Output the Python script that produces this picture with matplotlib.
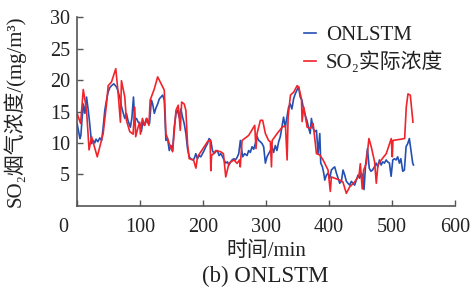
import matplotlib

matplotlib.use("Agg")
import matplotlib.pyplot as plt
import matplotlib.transforms as mtransforms

# ONLSTM prediction (minute, mg/m3)
pred_t = [0, 2, 4.5, 6, 8, 9.8, 12.4, 15, 17.7, 20, 23, 25.6, 28, 30, 33, 36, 39,
          41.4, 44, 46.7, 49.3, 52, 54.6, 58.3, 60, 62.5, 64.5, 66.7, 68.8, 70, 72,
          75.7, 78.3, 81, 84.6, 87, 89.5, 91.5, 94.2, 97, 99.4, 102, 104.7, 107, 110,
          112, 115, 117.9, 120, 122.6, 125, 127.9, 130.5, 133.2, 135.8, 138.4, 140,
          141, 143.7, 146.3, 149, 151.6, 154.2, 157, 159.5, 162, 164.8, 167.4, 170,
          172.7, 175.3, 178, 180.6, 183.2, 185.9, 188.5, 191.1, 193.8, 196.4, 199,
          201.7, 204.3, 207, 209.6, 212.2, 214.9, 217.5, 220, 222.8, 225.4, 228,
          230.5, 233.3, 236, 238.6, 241.2, 243.8, 246, 249, 251.3, 254, 256.6, 259.2,
          262.9, 266, 269.8, 272.4, 275, 277.7, 280.3, 283, 285.7, 288.3, 291, 293.6,
          296.2, 298.9, 301.5, 304.1, 306.8, 309.4, 312, 314.7, 317.3, 320, 322.6,
          325.2, 327.8, 330.5, 333.1, 335.8, 338.4, 341, 343.7, 346.3, 349, 351.6,
          354.2, 356.9, 359.5, 362.2, 364.8, 367.4, 370, 372, 374.7, 377.3, 380,
          382.6, 385.3, 386.8, 389.5, 391.6, 393.2, 395.8, 398.4, 401.1, 403.7, 406.4,
          409, 411.7, 414.3, 416.9, 419.6, 422.2, 424.9, 427.5, 430, 432.8, 435.4,
          438, 440.6, 443.3, 446, 448.6, 451.2, 453.5, 455.5, 458, 461, 463.8, 466.4,
          469, 472, 474.8, 477.4, 480, 482.7, 485.3, 488, 490.6, 493, 495.9, 498.5,
          501.2, 503.8, 506.4, 509, 511.7, 514, 517, 519.6, 522.3, 524.9, 527.5, 530,
          532.8, 534]
pred_v = [13.1, 12.0, 10.7, 11.2, 14.0, 16.2, 14.7, 17.3, 15.2, 13.1, 9.9, 10.4, 10.0,
          10.6, 10.2, 10.8, 10.4, 12.5, 15.2, 16.8, 18.1, 18.8, 19.1, 19.4, 19.2, 18.9,
          18.4, 17.6, 16.8, 16.0, 15.2, 13.9, 14.7, 13.5, 12.5, 14.0, 17.3, 13.6, 13.9,
          13.3, 13.1, 11.8, 13.4, 12.8, 13.9, 13.2, 13.1, 16.8, 16.2, 14.7, 15.5, 16.2,
          17.0, 17.3, 17.6, 16.8, 13.0, 10.4, 10.7, 8.8, 9.6, 8.8, 12.5, 14.7, 15.2,
          14.1, 15.4, 14.1, 13.1, 11.5, 9.1, 7.8, 7.5, 7.3, 7.5, 8.3, 7.5, 8.0, 7.8,
          8.3, 8.8, 9.4, 9.9, 10.7, 10.4, 8.8, 8.3, 8.6, 8.8, 8.0, 8.3, 7.9, 7.3, 6.8,
          7.0, 6.5, 7.0, 7.3, 7.5, 7.3, 7.7, 8.3, 10.4, 7.8, 8.3, 8.0, 8.8, 8.5, 9.4,
          9.0, 9.9, 11.0, 10.4, 10.2, 9.9, 9.4, 6.8, 7.8, 8.3, 8.8, 9.4, 8.5, 9.6, 8.8,
          10.2, 11.0, 12.5, 14.1, 12.5, 14.1, 15.7, 16.2, 15.4, 17.0, 17.8, 18.4, 18.9,
          17.3, 16.8, 15.4, 14.4, 13.6, 12.5, 11.5, 13.9, 12.3, 11.8, 12.0, 8.3, 11.5,
          6.8, 6.2, 5.2, 4.1, 4.9, 5.2, 4.4, 5.7, 6.0, 6.2, 5.2, 4.4, 3.6, 3.9, 5.7,
          4.9, 3.9, 3.6, 3.3, 3.9, 3.6, 3.3, 4.1, 4.9, 4.4, 5.2, 4.8, 2.6, 6.5, 9.1,
          6.0, 5.5, 5.7, 6.2, 6.8, 6.2, 7.3, 6.5, 7.0, 6.8, 7.3, 7.0, 6.8, 4.7, 7.3,
          7.5, 7.3, 7.8, 6.8, 7.5, 5.5, 5.7, 9.4, 9.9, 10.7, 8.8, 6.8, 6.5]

# measured SO2 concentration
meas_t = [0, 5.5, 9.8, 15, 19, 23, 32, 41.4, 46.7, 49.3, 54.6, 61.4, 65, 68.8, 70.4,
          75.7, 78.3, 83.6, 88.9, 91.5, 93, 96.8, 99.4, 100.5, 103.6, 107.4, 111, 114,
          116, 122.6, 127.9, 138.4, 141, 146.3, 151.6, 157, 160.6, 163.8, 166, 170,
          172.7, 175.3, 178, 184.9, 188.6, 191.2, 196.5, 207, 211.2, 212.3, 213.5,
          216.5, 220.2, 228, 232.3, 236, 241.2, 249.1, 254, 257.7, 259, 261.9, 272.4,
          282, 284, 285.7, 291, 294.6, 298.9, 304, 306.8, 308.6, 309.7, 317.6, 325.5,
          330.8, 333.4, 335, 338.7, 344, 349.3, 351.9, 356.2, 357.2, 359.9, 365.2,
          370.4, 374.7, 380, 385.3, 390.5, 398.4, 402, 403.7, 416.9, 422, 427.4,
          432.7, 440.6, 447.5, 449.6, 452.7, 454.9, 459, 463.3, 467, 472.3, 475,
          477.6, 482.9, 490.8, 498.8, 500.4, 501.5, 520, 522.6, 525.3, 529, 533.2]
meas_v = [14.7, 13.1, 18.5, 15.2, 8.9, 11.0, 7.8, 11.5, 16.2, 19.1, 19.7, 21.8, 18.1,
          13.3, 19.9, 17.3, 13.6, 11.8, 11.4, 15.7, 11.0, 12.5, 13.3, 11.4, 13.9, 12.8,
          13.9, 12.8, 16.8, 18.6, 20.5, 18.4, 11.5, 9.9, 8.6, 15.2, 16.0, 12.0, 16.5,
          16.2, 15.2, 9.9, 7.5, 7.3, 6.0, 7.8, 8.6, 10.2, 10.5, 5.6, 8.0, 8.3, 8.8, 8.6,
          8.3, 4.6, 6.8, 7.3, 6.75, 7.3, 6.2, 10.4, 11.2, 12.8, 9.1, 11.5, 13.6, 13.6,
          11.5, 10.4, 10.2, 6.2, 10.4, 11.5, 12.5, 12.8, 7.3, 14.1, 17.6, 18.1, 19.1,
          18.9, 17.0, 13.4, 15.7, 12.5, 12.3, 13.1, 8.3, 8.1, 7.3, 5.7, 2.3, 4.6, 4.1,
          3.8, 2.0, 3.0, 3.8, 4.8, 6.7, 2.7, 5.7, 6.7, 10.7, 9.4, 7.0, 3.6, 6.5, 7.3,
          8.3, 10.7, 7.8, 10.4, 10.7, 15.7, 17.8, 17.6, 13.3]

x_ticks = [0, 100, 200, 300, 400, 500, 600]
y_ticks = [5, 10, 15, 20, 25, 30]

plt.rcParams["font.family"] = ["Liberation Serif", "Noto Sans CJK SC", "DejaVu Serif"]
plt.rcParams["font.size"] = 15
TXT = "#222222"

fig = plt.figure(figsize=(4.73, 2.90), dpi=100)
ax = fig.add_axes([0.163, 0.290, 0.799, 0.651])

ax.plot(pred_t, pred_v, color="#2450b4", lw=1.2, label="ONLSTM")
ax.plot(meas_t, meas_v, color="#f0242a", lw=1.2, label="SO₂实际浓度")

ax.set_xlim(0, 600)
ax.set_ylim(0, 30)
ax.set_xticks(x_ticks)
ax.set_yticks(y_ticks)
ax.tick_params(direction="in", length=4, width=1, color="#555555",
               labelcolor=TXT, labelsize=14.5)
ax.tick_params(axis="x", pad=9)
ax.tick_params(axis="y", pad=5)
for side in ("top", "right"):
    ax.spines[side].set_visible(False)
for side in ("left", "bottom"):
    ax.spines[side].set_color("#555555")
    ax.spines[side].set_linewidth(1.2)

# shift the "0" label left, away from the y axis
lbl0 = ax.get_xticklabels()[0]
lbl0.set_transform(lbl0.get_transform() +
                   mtransforms.ScaledTranslation(-0.14, 0, fig.dpi_scale_trans))

ax.set_ylabel("SO₂烟气浓度/(mg/m³)", color=TXT)
ax.yaxis.set_label_coords(-0.135, 0.5)
ax.set_xlabel("时间/min", color=TXT, labelpad=3)

ax.legend(loc="upper left", bbox_to_anchor=(0.643, 0.912),
          bbox_transform=fig.transFigure, frameon=False,
          borderpad=0, borderaxespad=0, handlelength=0.55,
          handletextpad=0.5, labelspacing=0.3, fontsize=15, labelcolor=TXT)

fig.text(0.56, 0.045, "(b) ONLSTM", ha="center", va="center", color=TXT,
         fontsize=16.5)

fig.savefig("out.png", dpi=100)
